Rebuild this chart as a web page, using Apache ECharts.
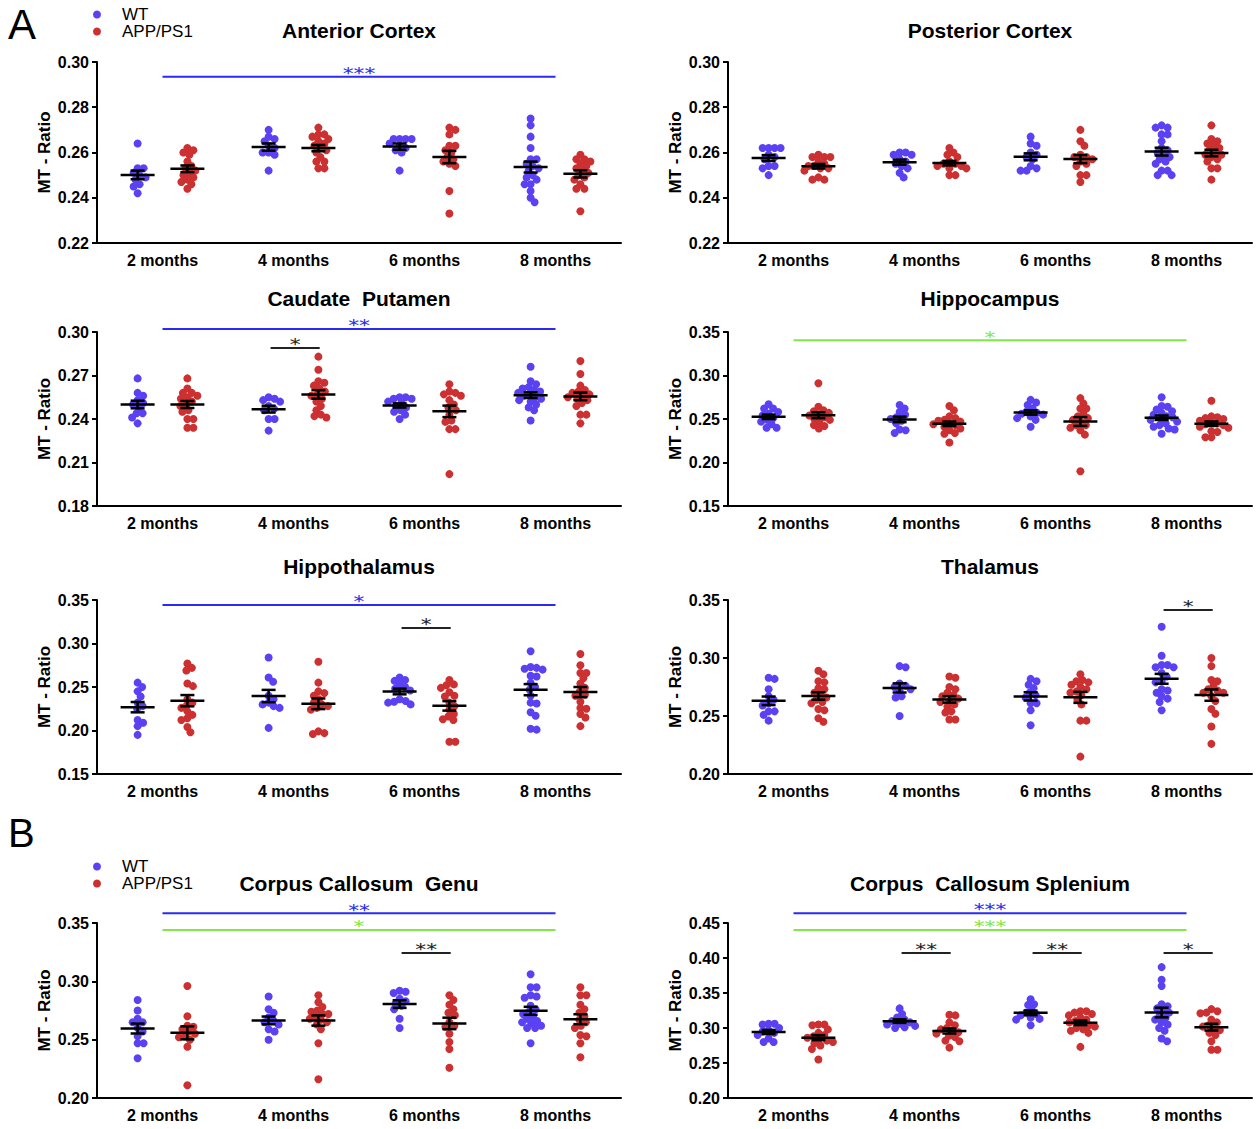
<!DOCTYPE html>
<html>
<head>
<meta charset="utf-8">
<title>MT - Ratio by region</title>
<script src="https://cdn.jsdelivr.net/npm/echarts@6/dist/echarts.min.js"></script>
<style>
  html, body { margin: 0; padding: 0; background: #fff; }
  #main { width: 1258px; height: 1129px; }
</style>
</head>
<body>
<div id="main"></div>
<script>
const months = ['2 months', '4 months', '6 months', '8 months'];

// MT ratio per animal, one inner list per age (2, 4, 6, 8 months)
const anteriorWT = [
  [0.264, 0.253, 0.253, 0.251, 0.250, 0.249, 0.248, 0.246, 0.245, 0.242],
  [0.270, 0.267, 0.266, 0.265, 0.263, 0.262, 0.260, 0.260, 0.259, 0.252],
  [0.266, 0.266, 0.266, 0.266, 0.264, 0.263, 0.262, 0.261, 0.260, 0.252],
  [0.275, 0.272, 0.267, 0.262, 0.257, 0.257, 0.255, 0.254, 0.253, 0.252, 0.250, 0.249, 0.248, 0.246, 0.246, 0.243, 0.240, 0.238]
];
const anteriorAPP = [
  [0.262, 0.261, 0.260, 0.259, 0.256, 0.254, 0.253, 0.252, 0.251, 0.250, 0.249, 0.248, 0.247, 0.246, 0.244],
  [0.271, 0.268, 0.268, 0.267, 0.266, 0.265, 0.264, 0.263, 0.262, 0.261, 0.260, 0.258, 0.256, 0.256, 0.253, 0.253],
  [0.271, 0.270, 0.268, 0.263, 0.263, 0.261, 0.260, 0.258, 0.257, 0.256, 0.255, 0.254, 0.243, 0.233],
  [0.259, 0.257, 0.257, 0.256, 0.255, 0.254, 0.253, 0.252, 0.251, 0.250, 0.249, 0.248, 0.246, 0.244, 0.244, 0.234]
];
const posteriorWT = [
  [0.262, 0.262, 0.262, 0.262, 0.259, 0.258, 0.257, 0.254, 0.254, 0.253, 0.250],
  [0.260, 0.260, 0.259, 0.259, 0.257, 0.256, 0.255, 0.254, 0.253, 0.251, 0.249],
  [0.267, 0.264, 0.263, 0.260, 0.259, 0.258, 0.257, 0.254, 0.253, 0.252, 0.252],
  [0.272, 0.271, 0.271, 0.268, 0.268, 0.265, 0.262, 0.261, 0.260, 0.259, 0.258, 0.257, 0.256, 0.255, 0.252, 0.252, 0.250, 0.250]
];
const posteriorAPP = [
  [0.259, 0.258, 0.258, 0.258, 0.256, 0.255, 0.254, 0.254, 0.253, 0.253, 0.252, 0.249, 0.248, 0.248],
  [0.262, 0.260, 0.259, 0.258, 0.256, 0.255, 0.255, 0.254, 0.254, 0.253, 0.253, 0.250, 0.250],
  [0.270, 0.265, 0.263, 0.259, 0.258, 0.258, 0.257, 0.256, 0.255, 0.254, 0.250, 0.250, 0.247],
  [0.272, 0.266, 0.265, 0.264, 0.263, 0.262, 0.261, 0.260, 0.259, 0.259, 0.258, 0.257, 0.256, 0.253, 0.253, 0.248]
];
const caudateWT = [
  [0.268, 0.258, 0.256, 0.253, 0.251, 0.250, 0.248, 0.244, 0.244, 0.241, 0.237],
  [0.255, 0.254, 0.253, 0.252, 0.249, 0.247, 0.246, 0.240, 0.240, 0.232],
  [0.255, 0.255, 0.254, 0.254, 0.252, 0.251, 0.249, 0.248, 0.246, 0.245, 0.243, 0.240],
  [0.276, 0.266, 0.264, 0.262, 0.261, 0.260, 0.259, 0.258, 0.257, 0.256, 0.255, 0.254, 0.253, 0.252, 0.250, 0.248, 0.246, 0.239]
];
const caudateAPP = [
  [0.268, 0.261, 0.258, 0.258, 0.256, 0.255, 0.254, 0.252, 0.250, 0.249, 0.246, 0.245, 0.240, 0.240, 0.234, 0.234],
  [0.283, 0.274, 0.266, 0.265, 0.263, 0.261, 0.259, 0.257, 0.256, 0.254, 0.252, 0.249, 0.246, 0.243, 0.242, 0.241],
  [0.264, 0.259, 0.258, 0.257, 0.256, 0.253, 0.250, 0.248, 0.246, 0.243, 0.239, 0.238, 0.233, 0.233, 0.202],
  [0.280, 0.271, 0.263, 0.260, 0.259, 0.258, 0.257, 0.256, 0.255, 0.254, 0.253, 0.251, 0.249, 0.243, 0.243, 0.237]
];
const hippocampusWT = [
  [0.267, 0.262, 0.262, 0.258, 0.256, 0.254, 0.251, 0.249, 0.247, 0.244, 0.240, 0.240],
  [0.266, 0.262, 0.258, 0.255, 0.252, 0.250, 0.248, 0.245, 0.238, 0.237, 0.234],
  [0.272, 0.269, 0.266, 0.262, 0.259, 0.257, 0.256, 0.255, 0.253, 0.251, 0.249, 0.241],
  [0.275, 0.265, 0.264, 0.261, 0.259, 0.257, 0.255, 0.253, 0.252, 0.250, 0.249, 0.247, 0.245, 0.243, 0.241, 0.239, 0.238, 0.233]
];
const hippocampusAPP = [
  [0.291, 0.264, 0.260, 0.259, 0.257, 0.255, 0.254, 0.252, 0.250, 0.249, 0.246, 0.243, 0.242, 0.239],
  [0.265, 0.260, 0.253, 0.251, 0.249, 0.248, 0.247, 0.245, 0.244, 0.243, 0.241, 0.239, 0.237, 0.234, 0.233, 0.223],
  [0.274, 0.268, 0.262, 0.262, 0.256, 0.253, 0.251, 0.249, 0.247, 0.243, 0.243, 0.240, 0.237, 0.232, 0.190],
  [0.271, 0.253, 0.252, 0.251, 0.250, 0.248, 0.246, 0.245, 0.244, 0.243, 0.241, 0.240, 0.236, 0.235, 0.229, 0.229]
];
const hippothalamusWT = [
  [0.255, 0.250, 0.245, 0.239, 0.232, 0.228, 0.225, 0.212, 0.209, 0.205, 0.195],
  [0.284, 0.261, 0.256, 0.240, 0.236, 0.232, 0.230, 0.228, 0.226, 0.203],
  [0.261, 0.258, 0.257, 0.253, 0.250, 0.248, 0.246, 0.236, 0.234, 0.233, 0.232, 0.230],
  [0.291, 0.273, 0.272, 0.271, 0.270, 0.263, 0.262, 0.255, 0.250, 0.247, 0.240, 0.232, 0.231, 0.221, 0.217, 0.202, 0.201]
];
const hippothalamusAPP = [
  [0.277, 0.272, 0.269, 0.254, 0.251, 0.236, 0.232, 0.229, 0.226, 0.222, 0.218, 0.214, 0.212, 0.204, 0.198],
  [0.279, 0.255, 0.245, 0.243, 0.240, 0.236, 0.232, 0.230, 0.228, 0.226, 0.224, 0.199, 0.197, 0.196],
  [0.258, 0.253, 0.252, 0.249, 0.244, 0.240, 0.239, 0.232, 0.228, 0.224, 0.219, 0.216, 0.213, 0.212, 0.187, 0.187],
  [0.288, 0.275, 0.266, 0.266, 0.260, 0.254, 0.249, 0.245, 0.241, 0.240, 0.233, 0.226, 0.225, 0.219, 0.215, 0.205]
];
const thalamusWT = [
  [0.283, 0.282, 0.273, 0.267, 0.264, 0.261, 0.259, 0.254, 0.254, 0.251, 0.246],
  [0.293, 0.292, 0.278, 0.276, 0.275, 0.273, 0.272, 0.267, 0.266, 0.250],
  [0.282, 0.280, 0.277, 0.274, 0.270, 0.268, 0.266, 0.261, 0.261, 0.255, 0.242],
  [0.327, 0.302, 0.294, 0.294, 0.292, 0.292, 0.287, 0.284, 0.280, 0.279, 0.273, 0.272, 0.270, 0.267, 0.265, 0.262, 0.255]
];
const thalamusAPP = [
  [0.289, 0.286, 0.280, 0.279, 0.274, 0.273, 0.270, 0.268, 0.266, 0.264, 0.262, 0.261, 0.256, 0.255, 0.248, 0.245],
  [0.284, 0.283, 0.275, 0.273, 0.270, 0.268, 0.267, 0.265, 0.263, 0.262, 0.260, 0.258, 0.254, 0.253, 0.247, 0.247],
  [0.286, 0.281, 0.280, 0.279, 0.277, 0.275, 0.273, 0.271, 0.270, 0.268, 0.264, 0.260, 0.246, 0.246, 0.215],
  [0.300, 0.293, 0.281, 0.280, 0.276, 0.273, 0.272, 0.270, 0.270, 0.267, 0.263, 0.256, 0.252, 0.241, 0.226]
];
const genuWT = [
  [0.284, 0.275, 0.268, 0.265, 0.265, 0.260, 0.257, 0.253, 0.247, 0.247, 0.234],
  [0.287, 0.276, 0.273, 0.269, 0.266, 0.265, 0.263, 0.259, 0.257, 0.250],
  [0.292, 0.291, 0.290, 0.285, 0.283, 0.281, 0.279, 0.276, 0.268, 0.260],
  [0.306, 0.295, 0.295, 0.288, 0.287, 0.286, 0.279, 0.276, 0.274, 0.272, 0.270, 0.268, 0.266, 0.265, 0.264, 0.262, 0.260, 0.260, 0.247]
];
const genuAPP = [
  [0.296, 0.270, 0.262, 0.261, 0.259, 0.257, 0.255, 0.253, 0.252, 0.250, 0.244, 0.211],
  [0.288, 0.282, 0.278, 0.275, 0.274, 0.272, 0.272, 0.270, 0.268, 0.267, 0.265, 0.263, 0.259, 0.247, 0.216],
  [0.288, 0.284, 0.280, 0.276, 0.273, 0.271, 0.265, 0.262, 0.261, 0.255, 0.248, 0.242, 0.226],
  [0.295, 0.288, 0.288, 0.280, 0.276, 0.273, 0.270, 0.267, 0.265, 0.262, 0.260, 0.254, 0.253, 0.247, 0.235]
];
const spleniumWT = [
  [0.306, 0.306, 0.305, 0.300, 0.297, 0.295, 0.293, 0.290, 0.285, 0.280, 0.280],
  [0.328, 0.320, 0.315, 0.312, 0.310, 0.308, 0.306, 0.305, 0.303, 0.301, 0.300],
  [0.341, 0.334, 0.333, 0.326, 0.322, 0.320, 0.318, 0.315, 0.313, 0.312, 0.304],
  [0.387, 0.369, 0.360, 0.334, 0.331, 0.328, 0.325, 0.322, 0.318, 0.315, 0.312, 0.308, 0.305, 0.300, 0.296, 0.285, 0.281]
];
const spleniumAPP = [
  [0.305, 0.305, 0.304, 0.298, 0.293, 0.290, 0.288, 0.286, 0.284, 0.282, 0.280, 0.278, 0.275, 0.270, 0.255],
  [0.319, 0.318, 0.308, 0.304, 0.300, 0.298, 0.296, 0.294, 0.292, 0.289, 0.287, 0.282, 0.281, 0.272],
  [0.324, 0.324, 0.322, 0.320, 0.318, 0.315, 0.312, 0.310, 0.308, 0.306, 0.304, 0.302, 0.300, 0.298, 0.296, 0.293, 0.273],
  [0.327, 0.324, 0.322, 0.321, 0.312, 0.308, 0.304, 0.302, 0.299, 0.297, 0.293, 0.290, 0.281, 0.269, 0.269]
];

// significance marks: kind WT / APP = age effect (2 -> 8 months), pair = WT vs APP at one age
const anteriorSig = [{kind: 'WT', from: 0, to: 3, y: 0.2935, stars: '***'}];
const posteriorSig = [];
const caudateSig = [
  {kind: 'WT', from: 0, to: 3, y: 0.3021, stars: '**'},
  {kind: 'pair', from: 1, to: 1, y: 0.289, stars: '*'}
];
const hippocampusSig = [{kind: 'APP', from: 0, to: 3, y: 0.3404, stars: '*'}];
const hippothalamusSig = [
  {kind: 'WT', from: 0, to: 3, y: 0.3443, stars: '*'},
  {kind: 'pair', from: 2, to: 2, y: 0.3177, stars: '*'}
];
const thalamusSig = [{kind: 'pair', from: 3, to: 3, y: 0.3414, stars: '*'}];
const genuSig = [
  {kind: 'WT', from: 0, to: 3, y: 0.3583, stars: '**'},
  {kind: 'APP', from: 0, to: 3, y: 0.344, stars: '*'},
  {kind: 'pair', from: 2, to: 2, y: 0.3242, stars: '**'}
];
const spleniumSig = [
  {kind: 'WT', from: 0, to: 3, y: 0.4639, stars: '***'},
  {kind: 'APP', from: 0, to: 3, y: 0.44, stars: '***'},
  {kind: 'pair', from: 1, to: 1, y: 0.407, stars: '**'},
  {kind: 'pair', from: 2, to: 2, y: 0.407, stars: '**'},
  {kind: 'pair', from: 3, to: 3, y: 0.407, stars: '*'}
];

const panels = [
  {title: 'Anterior Cortex', wt: anteriorWT, app: anteriorAPP, sig: anteriorSig, min: 0.22, max: 0.30, step: 0.02},
  {title: 'Posterior Cortex', wt: posteriorWT, app: posteriorAPP, sig: posteriorSig, min: 0.22, max: 0.30, step: 0.02},
  {title: 'Caudate  Putamen', wt: caudateWT, app: caudateAPP, sig: caudateSig, min: 0.18, max: 0.30, step: 0.03},
  {title: 'Hippocampus', wt: hippocampusWT, app: hippocampusAPP, sig: hippocampusSig, min: 0.15, max: 0.35, step: 0.05},
  {title: 'Hippothalamus', wt: hippothalamusWT, app: hippothalamusAPP, sig: hippothalamusSig, min: 0.15, max: 0.35, step: 0.05},
  {title: 'Thalamus', wt: thalamusWT, app: thalamusAPP, sig: thalamusSig, min: 0.20, max: 0.35, step: 0.05},
  {title: 'Corpus Callosum  Genu', wt: genuWT, app: genuAPP, sig: genuSig, min: 0.20, max: 0.35, step: 0.05},
  {title: 'Corpus  Callosum Splenium', wt: spleniumWT, app: spleniumAPP, sig: spleniumSig, min: 0.20, max: 0.45, step: 0.05}
];

// layout / style
const FONT = '"Liberation Sans", Arial, sans-serif';
const WT_COLOR = '#5a42f2';
const APP_COLOR = '#cc3030';
const SIG_COLOR = {WT: '#2a2af2', APP: '#80e84a', pair: '#222'};
const colLeft = [97, 728];
const rowBox = [[62, 243], [332, 506], [600, 774], [923, 1098]];
const titleY = [30, 298, 566, 883];
const plotW = 524;
const PX_X = plotW / 8;      // hidden x value axis runs 0..8, month centres at 1,3,5,7
const GROUP_OFF = 0.38;      // WT left / APP right of the month tick
const DOT = 8;
const GAP = 6;               // min centre distance in the swarm (dots may touch/overlap a little)
const MAX_SPREAD = 17;       // px either side of the group centre

function monthX(m) { return m * 2 + 1; }

// simple beeswarm so overlapping dots spread sideways
function swarm(values, cx, pxY) {
  const order = values.map((v, i) => i).sort((a, b) => values[b] - values[a]);
  const placed = [];
  const out = [];
  order.forEach(i => {
    const y = values[i] * pxY;
    let best = 0, bestD = -1;
    for (let k = 0; k <= MAX_SPREAD * 4; k++) {
      const cand = (k % 2 === 1 ? 1 : -1) * Math.ceil(k / 2) * 0.5;
      let dmin = Infinity;
      placed.forEach(q => {
        const d = Math.hypot(q[0] - cand, q[1] - y);
        if (d < dmin) dmin = d;
      });
      if (dmin >= GAP) { best = cand; break; }
      if (dmin > bestD) { bestD = dmin; best = cand; }
    }
    placed.push([best, y]);
    out.push([cx + best / PX_X, values[i]]);
  });
  return out;
}

function meanSem(vals) {
  const n = vals.length;
  const m = vals.reduce((a, b) => a + b, 0) / n;
  const sd = Math.sqrt(vals.reduce((a, b) => a + (b - m) * (b - m), 0) / (n - 1));
  return [m, sd / Math.sqrt(n)];
}

const grid = [], xAxis = [], yAxis = [], series = [], graphic = [];

panels.forEach((p, i) => {
  const row = Math.floor(i / 2), col = i % 2;
  const top = rowBox[row][0], h = rowBox[row][1] - rowBox[row][0];
  const pxY = h / (p.max - p.min);
  grid.push({left: colLeft[col], top: top, width: plotW, height: h, outerBoundsMode: 'none'});
  xAxis.push({
    type: 'category', gridIndex: i, data: months, boundaryGap: true,
    axisLine: {onZero: false, lineStyle: {color: '#000', width: 2}},
    axisTick: {alignWithLabel: true, length: 6, lineStyle: {color: '#000', width: 2}},
    axisLabel: {color: '#000', fontWeight: 'bold', fontSize: 16, margin: 9, fontFamily: FONT},
    splitLine: {show: false}
  });
  xAxis.push({type: 'value', gridIndex: i, min: 0, max: 8, show: false});
  yAxis.push({
    type: 'value', gridIndex: i, min: p.min, max: p.max, interval: p.step,
    axisLine: {show: true, onZero: false, lineStyle: {color: '#000', width: 2}},
    axisTick: {show: true, length: 5, lineStyle: {color: '#000', width: 2}},
    axisLabel: {color: '#000', fontWeight: 'bold', fontSize: 16, margin: 8, fontFamily: FONT,
      formatter: v => v.toFixed(2)},
    splitLine: {show: false},
    name: 'MT - Ratio', nameLocation: 'middle', nameGap: 44,
    nameTextStyle: {color: '#000', fontWeight: 'bold', fontSize: 17, fontFamily: FONT}
  });

  const wtPts = [], appPts = [], stats = [];
  months.forEach((mo, m) => {
    swarm(p.wt[m], monthX(m) - GROUP_OFF, pxY).forEach(d => wtPts.push(d));
    swarm(p.app[m], monthX(m) + GROUP_OFF, pxY).forEach(d => appPts.push(d));
    stats.push([monthX(m) - GROUP_OFF].concat(meanSem(p.wt[m])));
    stats.push([monthX(m) + GROUP_OFF].concat(meanSem(p.app[m])));
  });

  series.push({
    type: 'scatter', name: 'WT', xAxisIndex: 2 * i + 1, yAxisIndex: i,
    symbolSize: DOT, itemStyle: {color: WT_COLOR, opacity: 1}, data: wtPts, z: 2, silent: true
  });
  series.push({
    type: 'scatter', name: 'APP/PS1', xAxisIndex: 2 * i + 1, yAxisIndex: i,
    symbolSize: DOT, itemStyle: {color: APP_COLOR, opacity: 1}, data: appPts, z: 2, silent: true
  });
  series.push({
    type: 'custom', xAxisIndex: 2 * i + 1, yAxisIndex: i, z: 4, silent: true, data: stats,
    renderItem: (params, api) => {
      const c = api.coord([api.value(0), api.value(1)]);
      const hi = api.coord([api.value(0), api.value(1) + api.value(2)])[1];
      const lo = api.coord([api.value(0), api.value(1) - api.value(2)])[1];
      const st = {stroke: '#000', lineWidth: 2.5};
      return {type: 'group', children: [
        {type: 'line', shape: {x1: c[0] - 17, y1: c[1], x2: c[0] + 17, y2: c[1]}, style: st},
        {type: 'line', shape: {x1: c[0], y1: hi, x2: c[0], y2: lo}, style: st},
        {type: 'line', shape: {x1: c[0] - 7, y1: hi, x2: c[0] + 7, y2: hi}, style: st},
        {type: 'line', shape: {x1: c[0] - 7, y1: lo, x2: c[0] + 7, y2: lo}, style: st}
      ]};
    }
  });
  if (p.sig.length) {
    series.push({
      type: 'custom', xAxisIndex: 2 * i + 1, yAxisIndex: i, z: 5, silent: true, clip: false,
      data: p.sig.map(s => s.kind === 'pair'
        ? [monthX(s.from) - GROUP_OFF + 0.03, monthX(s.to) + GROUP_OFF + 0.02, s.y]
        : [monthX(s.from), monthX(s.to), s.y]),
      renderItem: (params, api) => {
        const s = p.sig[params.dataIndex];
        const a = api.coord([api.value(0), api.value(2)]);
        const b = api.coord([api.value(1), api.value(2)]);
        const color = SIG_COLOR[s.kind];
        return {type: 'group', children: [
          {type: 'line', shape: {x1: a[0], y1: a[1], x2: b[0], y2: b[1]},
            style: {stroke: color, lineWidth: 2}},
          {type: 'text', x: (a[0] + b[0]) / 2, y: a[1] - 3, scaleX: 1.45,
            style: {text: s.stars, fill: color, font: '15px "DejaVu Sans"',
              align: 'center', verticalAlign: 'middle'}}
        ]};
      }
    });
  }

  graphic.push({
    type: 'text', x: colLeft[col] + plotW / 2, y: titleY[row],
    style: {text: p.title, fill: '#000', font: 'bold 21px ' + FONT, align: 'center', verticalAlign: 'middle'}
  });
});

graphic.push({type: 'text', x: 8, y: 24, style: {text: 'A', fill: '#000', font: '42px ' + FONT, verticalAlign: 'middle'}});
graphic.push({type: 'text', x: 8, y: 833, style: {text: 'B', fill: '#000', font: '40px ' + FONT, verticalAlign: 'middle'}});

const legendBase = {
  data: ['WT', 'APP/PS1'], orient: 'vertical', icon: 'circle', itemWidth: 40, itemHeight: 8, itemGap: 0,
  selectedMode: false, textStyle: {color: '#000', fontSize: 17, fontFamily: FONT}
};

const chart = echarts.init(document.getElementById('main'), null, {renderer: 'svg'});
chart.setOption({
  animation: false,
  backgroundColor: '#fff',
  grid: grid,
  xAxis: xAxis,
  yAxis: yAxis,
  legend: [
    Object.assign({left: 88, top: 1}, legendBase),
    Object.assign({left: 88, top: 853}, legendBase)
  ],
  graphic: graphic,
  series: series
});
</script>
</body>
</html>
